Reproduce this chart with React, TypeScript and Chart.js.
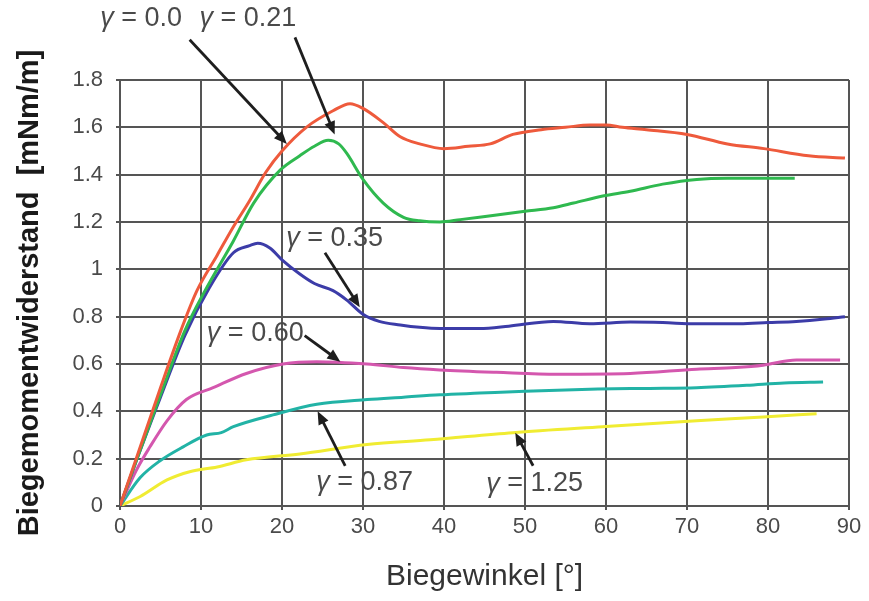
import React, { useEffect, useRef } from "react";
import { Chart, registerables } from "chart.js";

Chart.register(...registerables);

// ---- data ----
const redX = [0, 2, 5, 7.5, 9.5, 12, 14, 16, 18, 20, 23, 26.3, 28.4, 30, 32.5, 34.6, 37, 40, 43, 45.7, 48.5, 52, 55, 58, 60, 62, 65, 70, 75, 79.5, 85, 89.5];
const redY = [0, 0.2, 0.5, 0.74, 0.91, 1.06, 1.18, 1.29, 1.41, 1.5, 1.6, 1.67, 1.7, 1.68, 1.62, 1.56, 1.53, 1.51, 1.52, 1.53, 1.57, 1.59, 1.6, 1.61, 1.61, 1.6, 1.59, 1.57, 1.53, 1.51, 1.48, 1.47];

const greenX = [0, 2, 5, 8, 10.5, 14, 16.5, 19.8, 22.2, 24, 25.7, 27, 28, 30, 32.5, 35, 37, 39.5, 42, 46.5, 50, 53.5, 56, 59.6, 63, 67, 71.2, 75, 80, 83.3];
const greenY = [0, 0.19, 0.47, 0.74, 0.91, 1.12, 1.28, 1.42, 1.48, 1.52, 1.545, 1.53, 1.49, 1.38, 1.28, 1.22, 1.205, 1.2, 1.21, 1.23, 1.245, 1.26, 1.28, 1.31, 1.33, 1.36, 1.38, 1.385, 1.385, 1.385];

const blueX = [0, 2, 5, 8, 11, 14, 16, 17, 18.5, 20, 22.2, 24, 26.3, 28, 30, 32, 34.6, 37, 39.5, 42, 44.4, 48, 53.5, 58, 63, 67, 71, 76.5, 80, 83.5, 87, 89.5];
const blueY = [0, 0.19, 0.46, 0.72, 0.92, 1.07, 1.1, 1.11, 1.09, 1.04, 0.98, 0.94, 0.91, 0.87, 0.81, 0.78, 0.765, 0.755, 0.75, 0.75, 0.75, 0.76, 0.78, 0.77, 0.777, 0.775, 0.77, 0.77, 0.775, 0.78, 0.79, 0.8];

const magentaX = [0, 2, 3.7, 5.8, 8.2, 11.5, 15.6, 20.1, 24.3, 30.5, 35, 39.5, 46.5, 54, 63, 71.2, 76, 79.4, 83.5, 88.9];
const magentaY = [0, 0.15, 0.25, 0.36, 0.45, 0.5, 0.56, 0.6, 0.61, 0.6, 0.585, 0.575, 0.565, 0.557, 0.56, 0.578, 0.585, 0.595, 0.617, 0.617];

const cyanX = [0, 2.5, 4.9, 7.8, 10.7, 12.5, 14, 18.9, 24.3, 30.5, 35, 39.5, 44.4, 50, 59, 65, 71.2, 77.4, 82, 86.8];
const cyanY = [0, 0.12, 0.19, 0.25, 0.3, 0.31, 0.335, 0.385, 0.43, 0.45, 0.46, 0.47, 0.477, 0.485, 0.494, 0.497, 0.5, 0.51, 0.52, 0.524];

const yellowX = [0, 2.5, 5.8, 8.6, 12, 15.6, 22.2, 30.5, 38.3, 48.5, 59.6, 71.2, 79.4, 86];
const yellowY = [0, 0.04, 0.11, 0.145, 0.165, 0.195, 0.22, 0.26, 0.28, 0.31, 0.335, 0.36, 0.376, 0.39];

const seriesNames = ["γ = 0.0", "γ = 0.21", "γ = 0.35", "γ = 0.60", "γ = 0.87", "γ = 1.25"];
const seriesColors = ["#ee5a3c", "#2fb94f", "#3c3ca8", "#d457ae", "#22b3a6", "#f0ec32"];
const seriesXs = [redX, greenX, blueX, magentaX, cyanX, yellowX];
const seriesYs = [redY, greenY, blueY, magentaY, cyanY, yellowY];

const xTicks = [0, 10, 20, 30, 40, 50, 60, 70, 80, 90];
const yTicks = [0, 0.2, 0.4, 0.6, 0.8, 1, 1.2, 1.4, 1.6, 1.8];

// annotation labels (value) and arrows, in data units
const labelValues = ["0.0", "0.21", "0.35", "0.60", "0.87", "1.25"];
const labelX = [2.6, 15.8, 26.5, 16.7, 30.2, 51.2];
const labelY = [2.06, 2.06, 1.13, 0.73, 0.1, 0.093];
const arrowFromX = [8.6, 21.6, 25.3, 22.8, 27.8, 51.0];
const arrowFromY = [1.97, 1.98, 1.07, 0.72, 0.17, 0.17];
const arrowToX = [20.6, 26.5, 29.6, 27.2, 24.4, 48.8];
const arrowToY = [1.53, 1.57, 0.84, 0.61, 0.4, 0.31];

const FONT = "'Liberation Sans', Arial, Helvetica, sans-serif";

const annotationPlugin = {
  id: "gammaLabels",
  afterDraw(chart: any) {
    const ctx = chart.ctx as CanvasRenderingContext2D;
    const xs = chart.scales.x;
    const ys = chart.scales.y;
    ctx.save();
    for (let i = 0; i < labelValues.length; i++) {
      // arrow
      const x1 = xs.getPixelForValue(arrowFromX[i]);
      const y1 = ys.getPixelForValue(arrowFromY[i]);
      const x2 = xs.getPixelForValue(arrowToX[i]);
      const y2 = ys.getPixelForValue(arrowToY[i]);
      const ang = Math.atan2(y2 - y1, x2 - x1);
      const head = 13;
      const hw = 5.5;
      ctx.strokeStyle = "#1e1e1e";
      ctx.fillStyle = "#1e1e1e";
      ctx.lineWidth = 2.8;
      ctx.beginPath();
      ctx.moveTo(x1, y1);
      ctx.lineTo(x2 - Math.cos(ang) * head * 0.8, y2 - Math.sin(ang) * head * 0.8);
      ctx.stroke();
      ctx.beginPath();
      ctx.moveTo(x2, y2);
      ctx.lineTo(x2 - Math.cos(ang) * head - Math.sin(ang) * hw, y2 - Math.sin(ang) * head + Math.cos(ang) * hw);
      ctx.lineTo(x2 - Math.cos(ang) * head + Math.sin(ang) * hw, y2 - Math.sin(ang) * head - Math.cos(ang) * hw);
      ctx.closePath();
      ctx.fill();

      // label
      const cx = xs.getPixelForValue(labelX[i]);
      const cy = ys.getPixelForValue(labelY[i]);
      const gFont = "italic 27px " + FONT;
      const rFont = "27px " + FONT;
      const rest = " = " + labelValues[i];
      ctx.font = gFont;
      const gW = ctx.measureText("γ").width;
      ctx.font = rFont;
      const rW = ctx.measureText(rest).width;
      const total = gW + rW;
      const left = cx - total / 2;
      ctx.fillStyle = "#4a4a4a";
      ctx.textBaseline = "middle";
      ctx.textAlign = "left";
      ctx.font = gFont;
      ctx.fillText("γ", left, cy);
      ctx.font = rFont;
      ctx.fillText(rest, left + gW, cy);
    }
    ctx.restore();
  },
};

export default function App() {
  const ref = useRef<HTMLCanvasElement | null>(null);
  useEffect(() => {
    document.body.style.margin = "0";
    const canvas = ref.current!;
    const datasets = seriesNames.map((name, i) => ({
      label: name,
      data: seriesXs[i].map((x, j) => ({ x, y: seriesYs[i][j] })),
      borderColor: seriesColors[i],
      backgroundColor: seriesColors[i],
      borderWidth: 3,
      pointRadius: 0,
      tension: 0.4,
      cubicInterpolationMode: "monotone" as const,
      fill: false,
    }));
    const chart = new Chart(canvas, {
      type: "line",
      data: { datasets },
      plugins: [annotationPlugin],
      options: {
        animation: false,
        responsive: false,
        maintainAspectRatio: false,
        layout: { padding: { left: 0, top: 80, right: 20, bottom: 0 } },
        plugins: { legend: { display: false }, tooltip: { enabled: false } },
        scales: {
          x: {
            type: "linear",
            min: 0,
            max: 90,
            afterBuildTicks: (s: any) => {
              s.ticks = xTicks.map((v) => ({ value: v }));
            },
            afterFit: (s: any) => {
              s.height = 95;
            },
            ticks: {
              color: "#4a4a4a",
              font: { family: FONT, size: 22 },
              padding: 4,
              maxRotation: 0,
              autoSkip: false,
            },
            grid: { color: "#555", lineWidth: 2, tickLength: 4 },
            border: { color: "#555", width: 2 },
            title: {
              display: true,
              text: "Biegewinkel [°]",
              color: "#333",
              font: { family: FONT, size: 30 },
              padding: { top: 0, bottom: 6 },
            },
          },
          y: {
            type: "linear",
            min: 0,
            max: 1.8,
            afterBuildTicks: (s: any) => {
              s.ticks = yTicks.map((v) => ({ value: v }));
            },
            afterFit: (s: any) => {
              s.width = 120;
            },
            ticks: {
              color: "#4a4a4a",
              font: { family: FONT, size: 22 },
              padding: 13,
              autoSkip: false,
              callback: (v: any) => String(Number(Number(v).toFixed(1))),
            },
            grid: { color: "#555", lineWidth: 2, tickLength: 4 },
            border: { color: "#555", width: 2 },
            title: {
              display: true,
              text: "Biegemomentwiderstand  [mNm/m]",
              color: "#1a1a1a",
              font: { family: FONT, size: 29, weight: "bold" },
              padding: { top: 13, bottom: 0 },
            },
          },
        },
      },
    });
    return () => chart.destroy();
  }, []);
  return (
    <div style={{ width: 869, height: 601, background: "#fff" }}>
      <canvas ref={ref} width={869} height={601} style={{ display: "block" }} />
    </div>
  );
}
